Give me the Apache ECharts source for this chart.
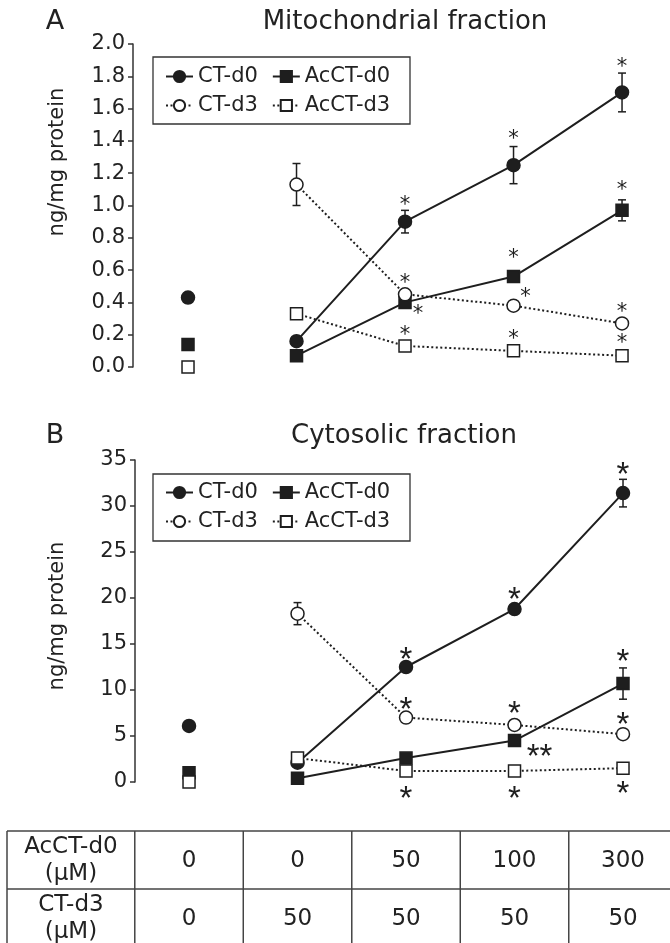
<!DOCTYPE html>
<html>
<head>
<meta charset="utf-8">
<script src="https://cdn.jsdelivr.net/npm/echarts@6/dist/echarts.min.js"></script>
<style>
html,body{margin:0;padding:0;background:#fff}
#chart{width:670px;height:943px}
</style>
</head>
<body>
<div id="chart"></div>
<script>
/* data */
var groups = [0, 1, 2, 3, 4];
var seriesNames = ['CT-d0', 'AcCT-d0', 'CT-d3', 'AcCT-d3'];

// A: mitochondrial fraction (ng/mg protein)
var mitoCT0 = [0.43, 0.16, 0.90, 1.25, 1.70];
var mitoCT0Err = [0.03, 0, 0.07, 0.115, 0.12];
var mitoAc0 = [0.14, 0.07, 0.40, 0.56, 0.97];
var mitoAc0Err = [0, 0, 0.03, 0.03, 0.065];
var mitoCT3 = [null, 1.13, 0.45, 0.38, 0.27];
var mitoCT3Err = [0, 0.13, 0.03, 0.03, 0];
var mitoAc3 = [0.00, 0.33, 0.13, 0.10, 0.07];
var mitoAc3Err = [0, 0, 0, 0, 0];
var mitoCT0Sig = ['', '', '*', '*', '*'];
var mitoAc0Sig = ['', '', '*', '*', '*'];
var mitoCT3Sig = ['', '', '*', '*', '*'];
var mitoAc3Sig = ['', '', '*', '*', '*'];
var mitoTicks = [0, 2, 0.2];

// B: cytosolic fraction (ng/mg protein)
var cytoCT0 = [6.1, 2.1, 12.5, 18.8, 31.4];
var cytoCT0Err = [0, 0, 0.3, 0.3, 1.5];
var cytoAc0 = [1.0, 0.4, 2.6, 4.5, 10.7];
var cytoAc0Err = [0, 0, 0, 0.2, 1.7];
var cytoCT3 = [null, 18.3, 7.0, 6.2, 5.2];
var cytoCT3Err = [0, 1.2, 0, 0, 0];
var cytoAc3 = [0.0, 2.6, 1.2, 1.2, 1.5];
var cytoAc3Err = [0, 0, 0, 0, 0];
var cytoCT0Sig = ['', '', '*', '*', '*'];
var cytoAc0Sig = ['', '', '', '**', '*'];
var cytoCT3Sig = ['', '', '*', '*', '*'];
var cytoAc3Sig = ['', '', '*', '*', '*'];
var cytoTicks = [0, 35, 5];

// table under the chart
var tableRowLabels = [['AcCT-d0', '(μM)'], ['CT-d3', '(μM)']];
var acct0Dose = ['0', '0', '50', '100', '300'];
var ct3Dose = ['0', '50', '50', '50', '50'];

/* styles */
var INK = '#1e1e1e';
var FONT = 'DejaVu Sans';
// where each asterisk sits relative to its point (px)
var mitoSigPos = [
	[null, null, [0, -21], [0, -31], [0, -30]],
	[null, null, [13, 7], [0, -23], [0, -25]],
	[null, null, [0, -16], [12, -13], [0, -16]],
	[null, null, [0, -15], [0, -16], [0, -17]]
];
var cytoSigPos = [
	[null, null, [0, -15], [0, -17], [0, -26]],
	[null, null, null, [25, 8], [0, -30]],
	[null, null, [0, -16], [0, -19], [0, -17]],
	[null, null, [0, 20], [0, 20], [0, 18]]
];
var styleList = [
	{symbol: 'circle', size: 13, fill: INK, dash: 'solid'},
	{symbol: 'rect', size: 12, fill: INK, dash: 'solid'},
	{symbol: 'circle', size: 13, fill: '#fff', dash: [2, 2.5]},
	{symbol: 'rect', size: 12, fill: '#fff', dash: [2, 2.5]}
];

function lineSeries(k, ax, vals, sig, sigPos, sigFont, sigSize, shift){
	var st = styleList[k];
	var data = [];
	for (var i = 1; i < vals.length; i++) {
		var item = {value: [groups[i], vals[i]]};
		if (sig[i]) {
			var p = sigPos[k][i];
			item.label = {
				show: true, position: 'inside', formatter: sig[i],
				offset: [p[0], p[1] + shift],
				fontFamily: sigFont, fontSize: sigSize, color: INK
			};
		}
		data.push(item);
	}
	return {
		name: seriesNames[k], type: 'line', xAxisIndex: ax, yAxisIndex: ax,
		symbol: st.symbol, symbolSize: st.size, z: 3,
		itemStyle: {color: st.fill, borderColor: INK, borderWidth: 1.5, opacity: 1},
		lineStyle: {color: INK, width: 2, type: st.dash},
		label: {show: false},
		data: data
	};
}

function ctrlSeries(k, ax, vals){
	var st = styleList[k];
	return {
		name: seriesNames[k] + ' ctrl', type: 'scatter', xAxisIndex: ax, yAxisIndex: ax,
		symbol: st.symbol, symbolSize: st.size, z: 3,
		itemStyle: {color: st.fill, borderColor: INK, borderWidth: 1.5, opacity: 1},
		data: vals[0] == null ? [] : [[groups[0], vals[0]]]
	};
}

function errSeries(ax, vals, errs){
	var data = [];
	for (var i = 0; i < vals.length; i++) {
		if (errs[i] && vals[i] != null) data.push([groups[i], vals[i] - errs[i], vals[i] + errs[i]]);
	}
	return {
		type: 'custom', xAxisIndex: ax, yAxisIndex: ax, z: 2, silent: true,
		encode: {x: 0, y: [1, 2]},
		renderItem: function(params, api){
			var lo = api.coord([api.value(0), api.value(1)]);
			var hi = api.coord([api.value(0), api.value(2)]);
			var c = 4;
			var s = {stroke: INK, lineWidth: 1.5};
			return {type: 'group', children: [
				{type: 'line', shape: {x1: hi[0], y1: hi[1], x2: lo[0], y2: lo[1]}, style: s},
				{type: 'line', shape: {x1: hi[0] - c, y1: hi[1], x2: hi[0] + c, y2: hi[1]}, style: s},
				{type: 'line', shape: {x1: lo[0] - c, y1: lo[1], x2: lo[0] + c, y2: lo[1]}, style: s}
			]};
		},
		data: data
	};
}

function yAxisOpt(gi, t, digits){
	return {
		type: 'value', gridIndex: gi, min: t[0], max: t[1], interval: t[2],
		axisLine: {show: true, onZero: false, lineStyle: {color: '#333', width: 1.5}},
		axisTick: {show: true, inside: false, length: 5, lineStyle: {color: '#333', width: 1.5}},
		axisLabel: {fontFamily: FONT, fontSize: 21, color: '#222', margin: 8,
			formatter: function(v){ return v.toFixed(digits); }},
		splitLine: {show: false}
	};
}

function legendRow(names, left, top){
	return {
		data: names, left: left, top: top, orient: 'horizontal', padding: 0,
		itemWidth: 27, itemHeight: 14, itemGap: 14, selectedMode: false,
		textStyle: {fontFamily: FONT, fontSize: 21, color: '#222'}
	};
}

var series = [];
var mitoVals = [mitoCT0, mitoAc0, mitoCT3, mitoAc3];
var mitoErrs = [mitoCT0Err, mitoAc0Err, mitoCT3Err, mitoAc3Err];
var mitoSigs = [mitoCT0Sig, mitoAc0Sig, mitoCT3Sig, mitoAc3Sig];
var cytoVals = [cytoCT0, cytoAc0, cytoCT3, cytoAc3];
var cytoErrs = [cytoCT0Err, cytoAc0Err, cytoCT3Err, cytoAc3Err];
var cytoSigs = [cytoCT0Sig, cytoAc0Sig, cytoCT3Sig, cytoAc3Sig];
for (var k = 0; k < 4; k++) {
	series.push(errSeries(0, mitoVals[k], mitoErrs[k]));
	series.push(errSeries(1, cytoVals[k], cytoErrs[k]));
}
for (var k = 0; k < 4; k++) {
	series.push(lineSeries(k, 0, mitoVals[k], mitoSigs[k], mitoSigPos, FONT, 21, 5));
	series.push(lineSeries(k, 1, cytoVals[k], cytoSigs[k], cytoSigPos, 'Liberation Sans', 33, 9));
	series.push(ctrlSeries(k, 0, mitoVals[k]));
	series.push(ctrlSeries(k, 1, cytoVals[k]));
}

var option = {
	animation: false,
	backgroundColor: '#fff',
	title: [
		{text: 'Mitochondrial fraction', left: 405, top: 9, textAlign: 'center', padding: 0,
			textStyle: {fontFamily: FONT, fontSize: 26, fontWeight: 'normal', color: '#222'}},
		{text: 'Cytosolic fraction', left: 404, top: 423, textAlign: 'center', padding: 0,
			textStyle: {fontFamily: FONT, fontSize: 26, fontWeight: 'normal', color: '#222'}}
	],
	legend: [
		legendRow(['CT-d0', 'AcCT-d0'], 165, 66),
		legendRow(['CT-d3', 'AcCT-d3'], 165, 95),
		legendRow(['CT-d0', 'AcCT-d0'], 165, 482),
		legendRow(['CT-d3', 'AcCT-d3'], 165, 511)
	],
	grid: [
		{left: 133, top: 44, width: 532, height: 323},
		{left: 135, top: 460, width: 530, height: 322}
	],
	xAxis: [
		{type: 'value', gridIndex: 0, min: -0.507, max: 4.396, show: false},
		{type: 'value', gridIndex: 1, min: -0.498, max: 4.387, show: false}
	],
	yAxis: [yAxisOpt(0, mitoTicks, 1), yAxisOpt(1, cytoTicks, 0)],
	graphic: [],
	series: series
};

var chart = echarts.init(document.getElementById('chart'));
chart.setOption(option);

/* labels, legend boxes and the dose table */
var g = [];
function txt(x, y, s, size, rot){
	g.push({type: 'text', x: x, y: y, rotation: rot || 0, silent: true,
		style: {text: s, fontFamily: FONT, fontSize: size, fill: '#222', textAlign: 'center', textVerticalAlign: 'middle'}});
}
txt(55, 22, 'A', 27);
txt(55, 436, 'B', 27);
txt(58, 162, 'ng/mg protein', 21, Math.PI / 2);
txt(58, 616, 'ng/mg protein', 21, Math.PI / 2);
g.push({type: 'rect', shape: {x: 153, y: 57, width: 257, height: 67}, silent: true,
	style: {fill: 'none', stroke: '#333', lineWidth: 1.3}});
g.push({type: 'rect', shape: {x: 153, y: 474, width: 257, height: 67}, silent: true,
	style: {fill: 'none', stroke: '#333', lineWidth: 1.3}});

var cx = groups.map(function(i){ return chart.convertToPixel({xAxisIndex: 1}, i); });
var half = (cx[1] - cx[0]) / 2;
var tTop = 831, rowH = 58, tLeft = 7;
var colEdges = [tLeft].concat(cx.map(function(c){ return c - half; })).concat([cx[4] + half + 4]);
var ln = {stroke: '#444', lineWidth: 1.5};
for (var r = 0; r <= 2; r++) {
	g.push({type: 'line', silent: true, shape: {x1: tLeft, y1: tTop + r * rowH, x2: 675, y2: tTop + r * rowH}, style: ln});
}
colEdges.forEach(function(x){
	g.push({type: 'line', silent: true, shape: {x1: x, y1: tTop, x2: x, y2: tTop + 2 * rowH}, style: ln});
});
var labCx = (tLeft + colEdges[1]) / 2;
[acct0Dose, ct3Dose].forEach(function(row, r){
	var yc = tTop + r * rowH + rowH / 2;
	txt(labCx, yc - 13, tableRowLabels[r][0], 23);
	txt(labCx, yc + 14, tableRowLabels[r][1], 23);
	row.forEach(function(v, i){ txt(cx[i], yc + 1, v, 23); });
});
chart.setOption({graphic: g});
</script>
</body>
</html>
